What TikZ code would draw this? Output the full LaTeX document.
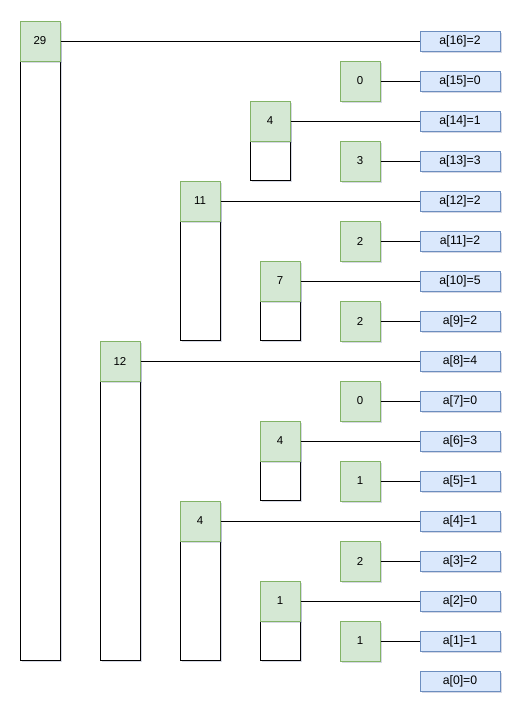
\documentclass[tikz,border=0pt]{standalone}
\usepackage{fontspec}
\setmainfont{Liberation Sans}
\usetikzlibrary{shadows,positioning}
\definecolor{mygreenfill}{RGB}{213,232,212}
\definecolor{mygreenline}{RGB}{130,179,102}
\definecolor{mybluefill}{RGB}{218,232,252}
\definecolor{myblueline}{RGB}{108,142,191}
\definecolor{myshadow}{RGB}{90,100,150}
\tikzset{>=latex}

\begin{document}
\begin{tikzpicture}[x=0.75pt, y=-0.75pt, line width=0.75pt,
    shade/.style = {drop shadow={shadow xshift=1.5pt, shadow yshift=-1.5pt, opacity=0.25, fill=myshadow}},
    cell/.style = {draw=myblueline, fill=mybluefill, minimum width=60pt, minimum height=15pt, inner sep=0pt, font=\fontsize{9.2}{10}\selectfont, shade},
    sum/.style = {draw=mygreenline, fill=mygreenfill, minimum size=30pt, inner sep=0pt, font=\fontsize{8.6}{9}\selectfont, shade},
    bar/.style = {draw=black, fill=white, shade}]
    \useasboundingbox (0,0) rectangle (532,722);
    % array cells
    \foreach \i/\v in {16/2,15/0,14/1,13/3,12/2,11/2,10/5,9/2,8/4,7/0,6/3,5/1,4/1,3/2,2/0,1/1,0/0}
    {%
        \node[cell] (a\i) at (460, 41+40*16-40*\i) {a[\i]=\v};
    };
    % partial sums with their ranges
    \foreach \x/\i/\v/\bot in {40/16/29/660, 120/8/12/660, 200/12/11/340, 200/4/4/660, 270/14/4/180, 280/10/7/340, 280/6/4/500, 280/2/1/660}
    {%
        \path[bar] (\x-20, 41+40*16-40*\i) rectangle (\x+20, \bot);
        \node[sum] (s\i) at (\x, 41+40*16-40*\i) {\v};
        \draw (s\i.east) -- (a\i.west);
    };
    % single elements
    \foreach \i/\v in {15/0,13/3,11/2,9/2,7/0,5/1,3/2,1/1}
    {%
        \node[sum] (s\i) at (360, 41+40*16-40*\i) {\v};
        \draw (s\i.east) -- (a\i.west);
    };
\end{tikzpicture}
\end{document}
